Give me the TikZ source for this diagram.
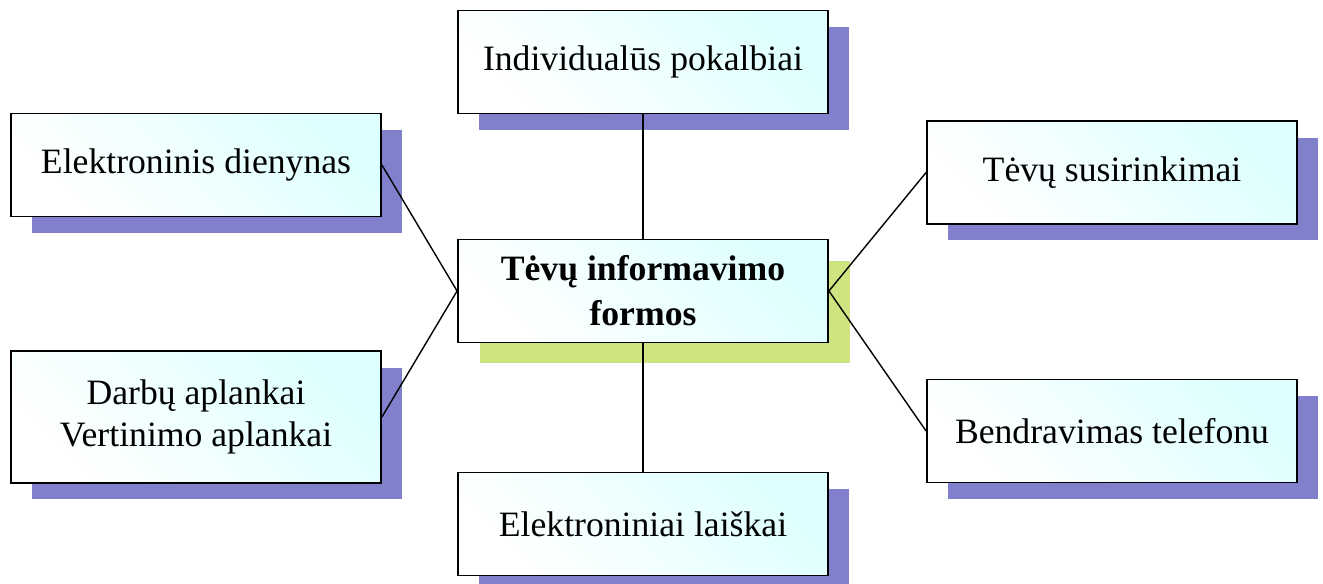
\documentclass[tikz,border=0pt]{standalone}
\usepackage{fontspec}
\setmainfont{Liberation Serif}
\usepackage{xcolor}
\usetikzlibrary{shadows}
\definecolor{boxcyan}{RGB}{222,255,255}
\definecolor{shadowblue}{RGB}{128,128,204}
\definecolor{shadowgreen}{RGB}{206,228,128}

\begin{document}
\begin{tikzpicture}[x=0.02cm, y=-0.02cm,
		forma/.style={draw, line width=1.1pt, shading=axis, top color=boxcyan, bottom color=white, shading angle=-45, minimum width=7.4cm, minimum height=2.06cm, inner sep=0pt, align=center, font=\fontsize{20.3}{23.5}\selectfont},
		melyna/.style={drop shadow={shadow xshift=0.42cm, shadow yshift=-0.33cm, fill=shadowblue, opacity=1}},
		zalia/.style={drop shadow={shadow xshift=0.44cm, shadow yshift=-0.42cm, fill=shadowgreen, opacity=1}},
		jungtis/.style={line width=0.8pt}]
			\useasboundingbox (0,0) rectangle (1323,584);
			\node[forma, zalia, font=\fontsize{20.3}{25.5}\selectfont\bfseries] (centras) at (643,291) {Tėvų informavimo\\formos};
			\node[forma, melyna] (pokalbiai) at (643,62) {Individualūs pokalbiai};
			\node[forma, melyna] (dienynas) at (196,165) {Elektroninis dienynas};
			\node[forma, melyna, minimum height=2.64cm] (aplankai) at (196,417) {Darbų aplankai\\Vertinimo aplankai};
			\node[forma, melyna] (susirinkimai) at (1112,172.5) {Tėvų susirinkimai};
			\node[forma, melyna] (telefonu) at (1112,431) {Bendravimas telefonu};
			\node[forma, melyna] (laiskai) at (643,524) {Elektroniniai laiškai};
			\draw[jungtis] (pokalbiai.south) -- (centras.north);
			\draw[jungtis] (centras.south) -- (laiskai.north);
			\draw[jungtis] (dienynas.east) -- (centras.west);
			\draw[jungtis] (aplankai.east) -- (centras.west);
			\draw[jungtis] (susirinkimai.west) -- (centras.east);
			\draw[jungtis] (telefonu.west) -- (centras.east);
		\end{tikzpicture}
\end{document}
